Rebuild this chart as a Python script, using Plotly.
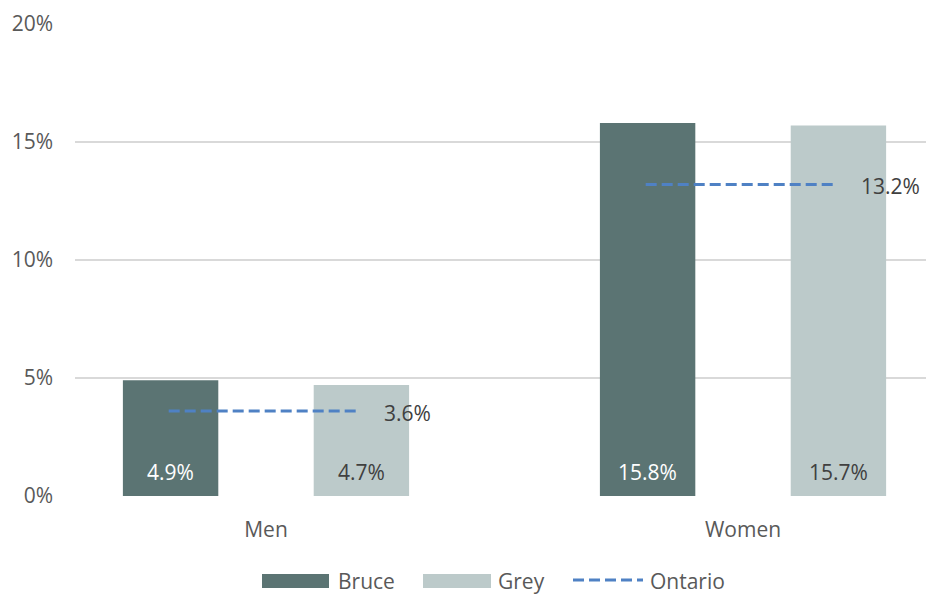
import plotly.graph_objects as go

categories = ["Men", "Women"]
bruce = [4.9, 15.8]
grey = [4.7, 15.7]
ontario = [3.6, 13.2]
y_ticks = [0, 5, 10, 15, 20]
y_tick_labels = ["0%", "5%", "10%", "15%", "20%"]

C_BRUCE = "#5B7473"
C_GREY = "#BCCACA"
C_ONT = "#4F81C4"
C_TEXT = "#595959"
C_DARK = "#404040"
FONT = "Open Sans"
FS = 21

W, H = 926, 594
ML, MR, MT, MB = 75, 0, 24, 98
PW, PH = W - ML - MR, H - MT - MB

x_idx = list(range(len(categories)))

fig = go.Figure()
fig.add_trace(go.Bar(x=x_idx, y=bruce, name="Bruce", marker=dict(color=C_BRUCE, line=dict(width=0)),
                     showlegend=False, hoverinfo="skip"))
fig.add_trace(go.Bar(x=x_idx, y=grey, name="Grey", marker=dict(color=C_GREY, line=dict(width=0)),
                     showlegend=False, hoverinfo="skip"))

# Ontario reference lines spanning the group
ox, oy = [], []
for i, v in zip(x_idx, ontario):
    ox += [i - 0.204, i + 0.19, None]
    oy += [v, v, None]
fig.add_trace(go.Scatter(x=ox, y=oy, mode="lines", name="Ontario",
                         line=dict(color=C_ONT, width=3, dash="11px,5px"),
                         showlegend=False, hoverinfo="skip"))

annotations = []
for i, v in zip(x_idx, ontario):
    annotations.append(dict(x=i + 0.19, y=v, xref="x", yref="y", text=f"{v:.1f}%",
                            showarrow=False, xanchor="left", yanchor="middle", xshift=25, yshift=-2,
                            font=dict(family=FONT, size=FS, color=C_DARK)))
for i, (b, g) in enumerate(zip(bruce, grey)):
    annotations.append(dict(x=i - 0.2, y=0, xref="x", yref="y", text=f"{b:.1f}%",
                            showarrow=False, xanchor="center", yanchor="bottom", yshift=8,
                            font=dict(family=FONT, size=FS, color="white")))
    annotations.append(dict(x=i + 0.2, y=0, xref="x", yref="y", text=f"{g:.1f}%",
                            showarrow=False, xanchor="center", yanchor="bottom", yshift=8,
                            font=dict(family=FONT, size=FS, color=C_DARK)))

def px(xp):
    return (xp - ML) / PW

def py(yp):
    return (H - MB - yp) / PH

shapes = []
legend_items = [
    ("Bruce", "rect", C_BRUCE, 262, 329, 336),
    ("Grey", "rect", C_GREY, 423, 491, 496),
    ("Ontario", "line", C_ONT, 573, 643, 648),
]
LY = 580
for name, kind, col, x0, x1, tx in legend_items:
    if kind == "rect":
        shapes.append(dict(type="rect", xref="paper", yref="paper", x0=px(x0), x1=px(x1),
                           y0=py(LY - 6), y1=py(LY + 8), fillcolor=col, line=dict(width=0), layer="above"))
    else:
        shapes.append(dict(type="line", xref="paper", yref="paper", x0=px(x0), x1=px(x1),
                           y0=py(LY), y1=py(LY), line=dict(color=col, width=3, dash="11px,5px")))
    annotations.append(dict(x=px(tx), y=py(LY + 1), xref="paper", yref="paper", text=name,
                            showarrow=False, xanchor="left", yanchor="middle",
                            font=dict(family=FONT, size=FS, color=C_TEXT)))

fig.update_layout(
    width=W, height=H,
    margin=dict(l=ML, r=MR, t=MT, b=MB),
    paper_bgcolor="white", plot_bgcolor="white",
    barmode="group", bargap=0.2, bargroupgap=0.5,
    font=dict(family=FONT, size=FS, color=C_TEXT),
    showlegend=False,
    annotations=annotations,
    shapes=shapes,
    xaxis=dict(range=[-0.4004, 1.3836], tickmode="array", tickvals=x_idx, ticktext=categories,
               showgrid=False, zeroline=False, showline=False, ticks="",
               ticklabelstandoff=19, tickfont=dict(family=FONT, size=FS, color=C_TEXT), fixedrange=True),
    yaxis=dict(range=[0, 20], tickmode="array", tickvals=y_ticks, ticktext=y_tick_labels,
               showgrid=True, gridcolor="#D9D9D9", gridwidth=1.6, zeroline=False, showline=False,
               ticks="", ticklabelstandoff=21, tickfont=dict(family=FONT, size=FS, color=C_TEXT),
               fixedrange=True),
)

fig.write_html("out.html", config={"displayModeBar": False},
               post_script="document.body.style.margin='0';document.body.style.overflow='hidden';")
